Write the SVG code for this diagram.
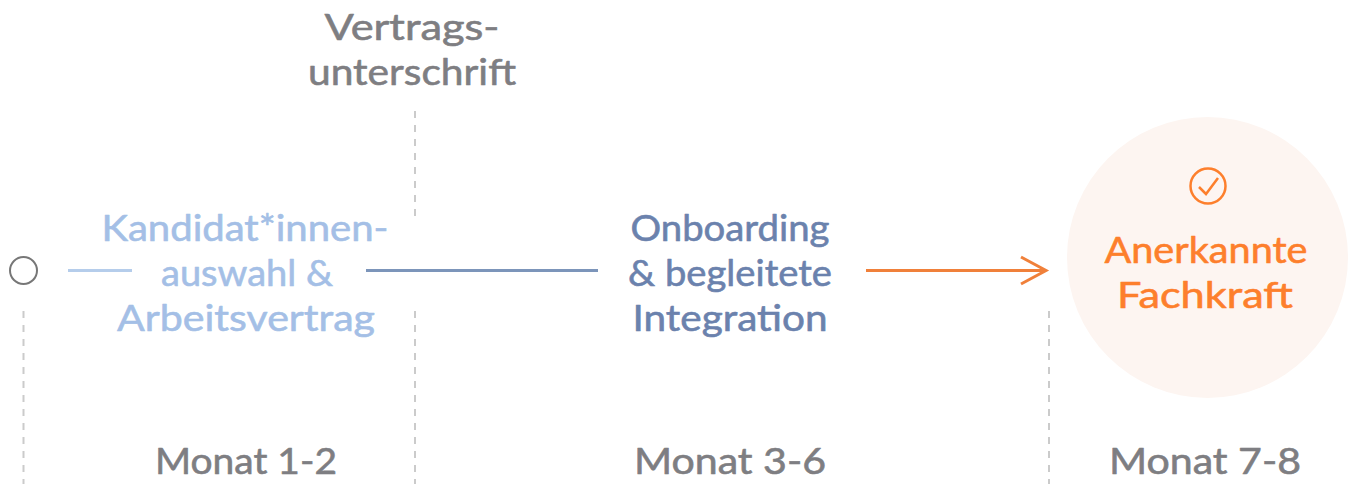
<svg xmlns="http://www.w3.org/2000/svg" width="1351" height="484" viewBox="0 0 1351 484">
<style>
text{font-family:"Lato","Noto Sans",sans-serif;font-size:37px;text-anchor:middle;stroke-width:.6px;stroke-linejoin:round}
.g{fill:#7e7e82;stroke:#7e7e82}.l{fill:#a4bfe6;stroke:#a4bfe6}.d{fill:#6b82ad;stroke:#6b82ad}.o{fill:#fd7f2c;stroke:#fd7f2c}
.dash{stroke:#cbcbcb;stroke-width:2;stroke-dasharray:7 7;fill:none}
.line{stroke-width:3;fill:none}
</style>
<g id="connectors">
<line class="dash" x1="23.5" y1="311" x2="23.5" y2="484"/>
<line class="dash" x1="415" y1="111" x2="415" y2="218"/>
<line class="dash" x1="415" y1="311" x2="415" y2="484"/>
<line class="dash" x1="1049" y1="311" x2="1049" y2="484"/>
<line class="line" stroke="#b5cdeb" x1="68" y1="270.500" x2="132" y2="270.500"/>
<line class="line" stroke="#7c95ba" x1="366" y1="270.500" x2="598" y2="270.500"/>
<path class="line" stroke="#f0803a" d="M866 270.500H1046M1021 257L1046 270.500L1021 284"/>
</g>
<g id="start"><circle cx="23.500" cy="270.500" r="13.500" fill="#fff" stroke="#777" stroke-width="2"/></g>
<g id="contract"><text class="g" x="412" y="40" textLength="175" lengthAdjust="spacingAndGlyphs">Vertrags-</text>
<text class="g" x="412" y="85" textLength="208" lengthAdjust="spacingAndGlyphs">unterschrift</text></g>
<g id="phase1"><text class="l" x="245" y="241" textLength="287" lengthAdjust="spacingAndGlyphs">Kandidat*innen-</text>
<text class="l" x="247" y="286" textLength="172" lengthAdjust="spacingAndGlyphs">auswahl &amp;</text>
<text class="l" x="246" y="331" textLength="258" lengthAdjust="spacingAndGlyphs">Arbeitsvertrag</text></g>
<g id="phase2"><text class="d" x="730" y="241" textLength="199" lengthAdjust="spacingAndGlyphs">Onboarding</text>
<text class="d" x="730" y="286" textLength="204" lengthAdjust="spacingAndGlyphs">&amp; begleitete</text>
<text class="d" x="730" y="331" textLength="195" lengthAdjust="spacingAndGlyphs">Integration</text></g>
<g id="goal"><circle cx="1207.500" cy="257.500" r="140.500" fill="#fdf5f1"/>
<circle cx="1208" cy="186" r="17.500" fill="none" stroke="#fd7f2c" stroke-width="2.500"/>
<path d="M1199 187L1206 194L1218 178" fill="none" stroke="#fd7f2c" stroke-width="2.500"/>
<text class="o" x="1206" y="263" textLength="203" lengthAdjust="spacingAndGlyphs">Anerkannte</text>
<text class="o" x="1205" y="308" textLength="176" lengthAdjust="spacingAndGlyphs">Fachkraft</text></g>
<g id="months"><text class="g" x="246" y="474" textLength="182" lengthAdjust="spacingAndGlyphs">Monat 1-2</text>
<text class="g" x="730" y="474" textLength="192" lengthAdjust="spacingAndGlyphs">Monat 3-6</text>
<text class="g" x="1205" y="474" textLength="192" lengthAdjust="spacingAndGlyphs">Monat 7-8</text></g>
</svg>
